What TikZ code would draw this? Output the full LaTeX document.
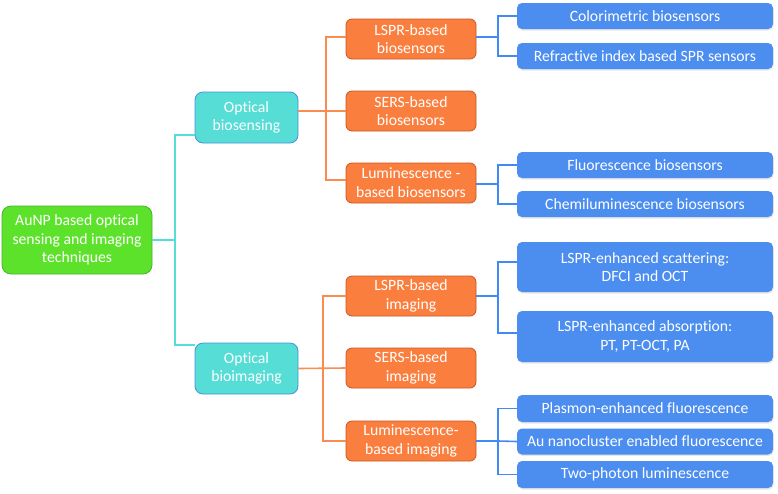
\documentclass[tikz,border=0pt]{standalone}
\usepackage{fontspec}
\setmainfont[Ligatures={NoCommon}]{Carlito}
\usetikzlibrary{shadows}
\definecolor{rootgreen}{HTML}{5DE22C}
\definecolor{rootedge}{HTML}{45B52A}
\definecolor{cyanbox}{HTML}{55DDD6}
\definecolor{cyanedge}{HTML}{4A90DC}
\definecolor{orbox}{HTML}{FA7F3E}
\definecolor{oredge}{HTML}{C8561F}
\definecolor{bluebox}{HTML}{4C8DF0}
\definecolor{blueline}{HTML}{3F8BF3}
\begin{document}
\begin{tikzpicture}[x=1pt,y=-1pt,
	every node/.style={text=white,align=center,font=\fontsize{15.7}{18.7}\selectfont,inner sep=0pt},
	rootbox/.style={fill=rootgreen,draw=rootedge,line width=0.8pt,rounded corners=9pt,minimum width=150pt,minimum height=68pt},
	topicbox/.style={fill=cyanbox,draw=cyanedge,line width=0.8pt,rounded corners=8pt,minimum width=103pt,minimum height=51pt},
	subbox/.style={fill=orbox,draw=oredge,line width=0.8pt,rounded corners=6pt,minimum width=130pt,minimum height=40pt},
	leafbox/.style={fill=bluebox,rounded corners=5pt,minimum width=256pt,minimum height=26pt,
		drop shadow={opacity=0.2,shadow xshift=0.6pt,shadow yshift=-1.5pt}},
	cyanline/.style={cyanbox,line width=1.6pt},
	orline/.style={orbox!90!white,line width=1.6pt},
	blline/.style={blueline,line width=1.6pt}]
	\useasboundingbox (0,0) rectangle (778,493);
			\node[rootbox] (root) at (77,240) {AuNP based optical\\sensing and imaging\\techniques};
		\node[topicbox] (S) at (246.5,117.5) {Optical\\biosensing};
		\node[topicbox] (I) at (246.5,368.5) {Optical\\bioimaging};
			\node[subbox] (S1) at (411,39) {LSPR-based\\biosensors};
			\node[subbox] (S2) at (411,111) {SERS-based\\biosensors};
			\node[subbox] (S3) at (411,183) {Luminescence -\\based biosensors};
			\node[subbox] (I1) at (411,296) {LSPR-based\\imaging};
			\node[subbox] (I2) at (411,368) {SERS-based\\imaging};
			\node[subbox] (I3) at (411,441) {Luminescence-\\based imaging};
				\node[leafbox] (S11) at (645,16) {Colorimetric biosensors};
				\node[leafbox] (S12) at (645,56) {Refractive index based SPR sensors};
				\node[leafbox] (S31) at (645,165) {Fluorescence biosensors};
				\node[leafbox] (S32) at (645,204) {Chemiluminescence biosensors};
				\node[leafbox,minimum height=50pt] (I11) at (645,267) {LSPR-enhanced scattering:\\DFCI and OCT};
				\node[leafbox,minimum height=51pt] (I12) at (645,336.5) {LSPR-enhanced absorption:\\PT, PT-OCT, PA};
				\node[leafbox,minimum height=27pt] (I31) at (645,408.5) {Plasmon-enhanced fluorescence};
				\node[leafbox] (I32) at (645,441.5) {Au nanocluster enabled fluorescence};
				\node[leafbox,minimum height=27pt] (I33) at (645,474.5) {Two-photon luminescence};
			% junctions
			\coordinate (Rj) at (175,240);
			\coordinate (Sj) at (326,111);
			\coordinate (Ij) at (323,368);
			\coordinate (S1j) at (498,37);
			\coordinate (S3j) at (498,184);
			\coordinate (I1j) at (498,296);
			\coordinate (I3j) at (498,441);
			\draw[cyanline] (root.east) -- (Rj);
			\draw[cyanline] ([yshift=-17.5pt]S.west) -| (Rj) |- ([yshift=23.5pt]I.west);
			\draw[orline] ([yshift=6.5pt]S.east) -- (S2.west);
				\draw[orline] ([yshift=2pt]S1.west) -| (Sj) |- ([yshift=3pt]S3.west);
			\draw[orline] (I.east) -- (I2.west);
				\draw[orline] (I1.west) -| (Ij) |- (I3.west);
			\draw[blline] ([yshift=2pt]S1.east) -- (S1j);
				\draw[blline] (S11.west) -| (S1j) |- (S12.west);
			\draw[blline] ([yshift=-1pt]S3.east) -- (S3j);
				\draw[blline] (S31.west) -| (S3j) |- (S32.west);
			\draw[blline] (I1.east) -- (I1j);
				\draw[blline] ([yshift=5pt]I11.west) -| (I1j) |- ([yshift=3.5pt]I12.west);
			\draw[blline] (I3.east) -- (I3j);
				\draw[blline] (I31.west) -| (I3j) |- (I33.west);
				\draw[blline] (I3j) -- (I32.west);
\end{tikzpicture}
\end{document}
